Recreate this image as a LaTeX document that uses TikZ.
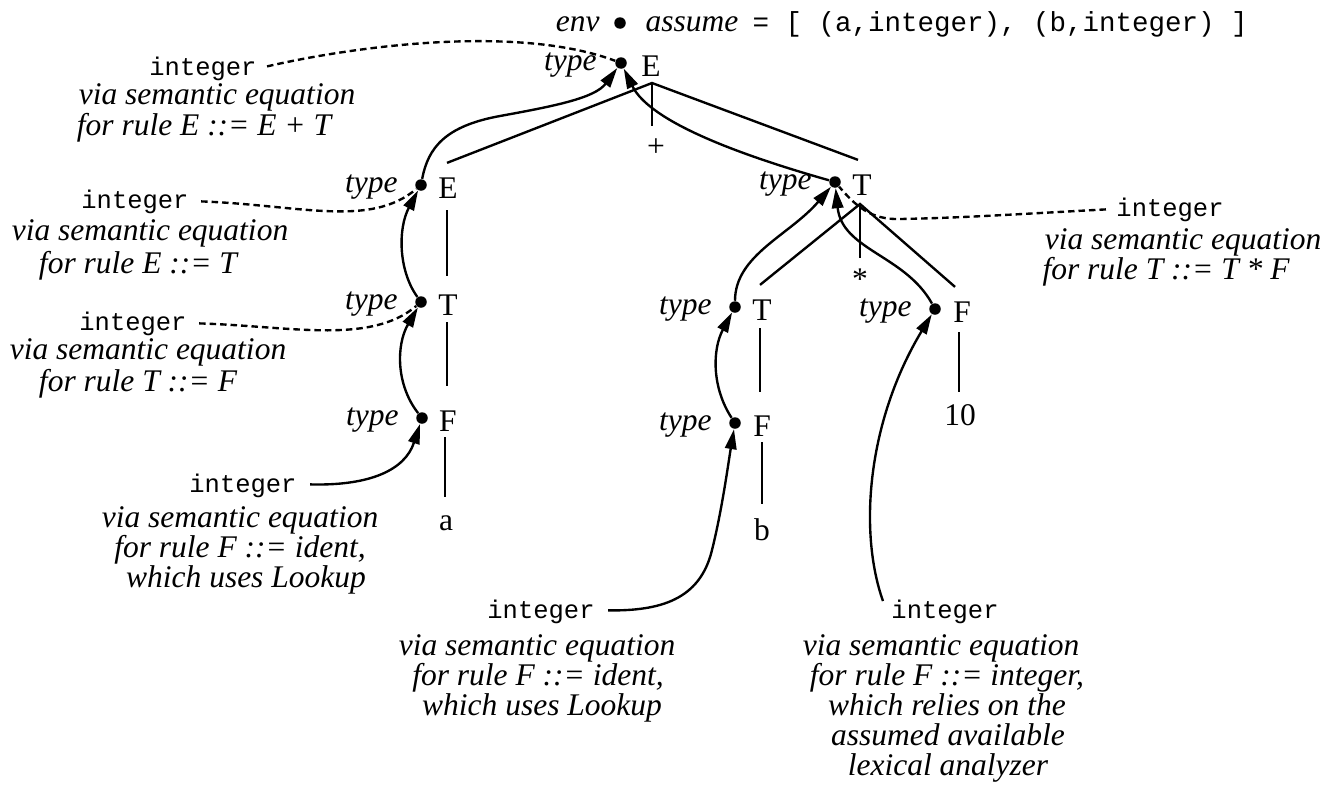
\documentclass[tikz,border=0pt]{standalone}
\usepackage{fontspec}
\setmainfont{Liberation Serif}
\setmonofont{Liberation Mono}
\usetikzlibrary{arrows.meta,calc}
\begin{document}
\begin{tikzpicture}[x=0.4pt,y=-0.4pt,
  lbl/.style={inner sep=0pt, font=\fontsize{12.6pt}{12pt}\selectfont\itshape},
  sym/.style={inner sep=0pt, font=\fontsize{12.6pt}{12pt}\selectfont},
  code/.style={inner sep=0pt, font=\fontsize{10.2pt}{12pt}\selectfont\ttfamily},
  tdot/.style={circle, fill, inner sep=0pt, minimum size=4.6pt},
  branch/.style={line width=0.95pt},
  flow/.style={line width=0.95pt, -{Triangle[length=8pt,width=4.6pt]}},
  dashlink/.style={line width=0.95pt, dash pattern=on 2.6pt off 1.6pt}]
\useasboundingbox (0,0) rectangle (1331,793);

% environment attribute at the root
\node[lbl, anchor=base east] (env) at (600,31) {env};
\node[tdot] (envdot) at (620,23) {};
\node[lbl, anchor=base west] (assume) at (645,31) {assume};
\node[code, font=\fontsize{11pt}{12pt}\selectfont\ttfamily, anchor=base west] (assumeval) at (752,31) {= [ (a,integer), (b,integer) ]};

% parse tree symbols with their type attributes
\node[tdot] (dE0) at (621,63) {};
\node[lbl, anchor=base east] (tyE0) at (597,70) {type};
\node[sym, anchor=base] (E0) at (651,76) {E};

\node[tdot] (dE1) at (421,185) {};
\node[lbl, anchor=base east] (tyE1) at (398,192) {type};
\node[sym, anchor=base] (E1) at (448,198) {E};

\node[tdot] (dT1) at (421,302) {};
\node[lbl, anchor=base east] (tyT1) at (398,309) {type};
\node[sym, anchor=base] (T1) at (448,315) {T};

\node[tdot] (dF1) at (422,418) {};
\node[lbl, anchor=base east] (tyF1) at (399,425) {type};
\node[sym, anchor=base] (F1) at (448,431) {F};

\node[sym, anchor=base] (A) at (446,530) {a};
\node[sym, anchor=base] (plus) at (656,156) {+};

\node[tdot] (dT2) at (835,182) {};
\node[lbl, anchor=base east] (tyT2) at (812,189) {type};
\node[sym, anchor=base] (T2) at (862,195) {T};

\node[sym, anchor=base] (star) at (860,289) {*};

\node[tdot] (dT3) at (735,307) {};
\node[lbl, anchor=base east] (tyT3) at (712,314) {type};
\node[sym, anchor=base] (T3) at (762,320) {T};

\node[tdot] (dF3) at (735,423) {};
\node[lbl, anchor=base east] (tyF3) at (712,430) {type};
\node[sym, anchor=base] (F3) at (762,436) {F};

\node[sym, anchor=base] (B) at (762,540) {b};

\node[tdot] (dF4) at (935,309) {};
\node[lbl, anchor=base east] (tyF4) at (912,316) {type};
\node[sym, anchor=base] (F4) at (962,322) {F};

\node[sym, anchor=base] (N10) at (960,425) {10};

% tree branches
\coordinate (apexE) at ($(E0.base)+(1,7)$);
\coordinate (apexT) at ($(T2.base)+(-2,9)$);
\draw[branch] ($(E1.north)+(-1,-14)$) -- (apexE) -- ($(T2.north)+(-4,-14)$);
\draw[branch] (apexE) -- ($(plus.north)+(-4,-12)$);
\draw[branch] ($(T3.north)+(-2,-14)$) -- (apexT) -- ($(F4.north)+(-7,-14)$);
\draw[branch] (apexT) -- ($(star.north)+(0,-10)$);
\draw[branch] ($(E1.base)+(-1,12)$) -- ($(T1.north)+(-1,-18)$);
\draw[branch] ($(T1.base)+(-1,7)$) -- ($(F1.north)+(-1,-24)$);
\draw[branch] ($(F1.base)+(-3,6)$) -- ($(A.north)+(-1,-18)$);
\draw[branch] ($(T3.base)+(-2,8)$) -- ($(F3.north)+(-2,-23)$);
\draw[branch] ($(F3.base)+(0,6)$) -- ($(B.north)+(0,-14)$);
\draw[branch] ($(F4.base)+(-3,10)$) -- ($(N10.north)+(-1,-12)$);

% explanations
\node[code, anchor=base] (i1) at (203,75) {integer};
\node[lbl, anchor=base] (v1a) at (217,104) {via semantic equation};
\node[lbl, anchor=base] (v1b) at (204,135) {for rule E ::= E + T};

\node[code, anchor=base] (i2) at (135,208) {integer};
\node[lbl, anchor=base] (v2a) at (150,240) {via semantic equation};
\node[lbl, anchor=base] (v2b) at (138,273) {for rule E ::= T};

\node[code, anchor=base] (i3) at (133,330) {integer};
\node[lbl, anchor=base] (v3a) at (148,359) {via semantic equation};
\node[lbl, anchor=base] (v3b) at (138,391) {for rule T ::= F};

\node[code, anchor=base] (i4) at (243,492) {integer};
\node[lbl, anchor=base] (v4a) at (240,527) {via semantic equation};
\node[lbl, anchor=base] (v4b) at (240,557) {for rule F ::= ident,};
\node[lbl, anchor=base] (v4c) at (246,587) {which uses Lookup};

\node[code, anchor=base] (i5) at (1170,216) {integer};
\node[lbl, anchor=base] (v5a) at (1183,249) {via semantic equation};
\node[lbl, anchor=base] (v5b) at (1166,279) {for rule T ::= T * F};

\node[code, anchor=base] (i6) at (541,618) {integer};
\node[lbl, anchor=base] (v6a) at (537,655) {via semantic equation};
\node[lbl, anchor=base] (v6b) at (538,685) {for rule F ::= ident,};
\node[lbl, anchor=base] (v6c) at (542,715) {which uses Lookup};

\node[code, anchor=base] (i7) at (945,618) {integer};
\node[lbl, anchor=base] (v7a) at (941,655) {via semantic equation};
\node[lbl, anchor=base] (v7b) at (947,685) {for rule F ::= integer,};
\node[lbl, anchor=base] (v7c) at (947,715) {which relies on the};
\node[lbl, anchor=base] (v7d) at (948,745) {assumed available};
\node[lbl, anchor=base] (v7e) at (948,775) {lexical analyzer};

% dashed links from the explanations to the attributes
\draw[dashlink] ($(i1.east)+(10,-2)$) .. controls (360,45) and (520,25) .. (dE0);
\draw[dashlink] ($(i2.east)+(12,0)$) .. controls (300,205) and (370,228) .. (dE1);
\draw[dashlink] ($(i3.east)+(12,0)$) .. controls (290,326) and (370,345) .. (dT1);
\draw[dashlink] ($(i5.west)+(-10,0)$) .. controls (1020,214) and (960,218) .. (900,219) .. controls (870,220) and (855,205) .. (dT2);

% synthesized attribute flow
\draw[flow] (dE1) .. controls (428,148) and (445,126) .. (500,116) .. controls (555,106) and (595,98) .. (dE0);
\draw[flow] (dT2) .. controls (740,155) and (650,122) .. (dE0);
\draw[flow] (dT1) .. controls (398,270) and (398,228) .. (dE1);
\draw[flow] (dF1) .. controls (396,385) and (396,345) .. (dT1);
\draw[flow] ($(i4.east)+(13,-1)$) .. controls (370,486) and (405,470) .. (dF1);
\draw[flow] (dT3) .. controls (735,255) and (790,235) .. (dT2);
\draw[flow] (dF4) .. controls (905,255) and (842,250) .. (dT2);
\draw[flow] (dF3) .. controls (712,388) and (712,350) .. (dT3);
\draw[flow] ($(i6.east)+(13,-1)$) .. controls (660,611) and (700,600) .. (712,550) .. controls (722,510) and (728,465) .. (dF3);
\draw[flow] ($(i7.north west)+(-8,2)$) .. controls (858,530) and (868,420) .. (dF4);
\end{tikzpicture}
\end{document}
